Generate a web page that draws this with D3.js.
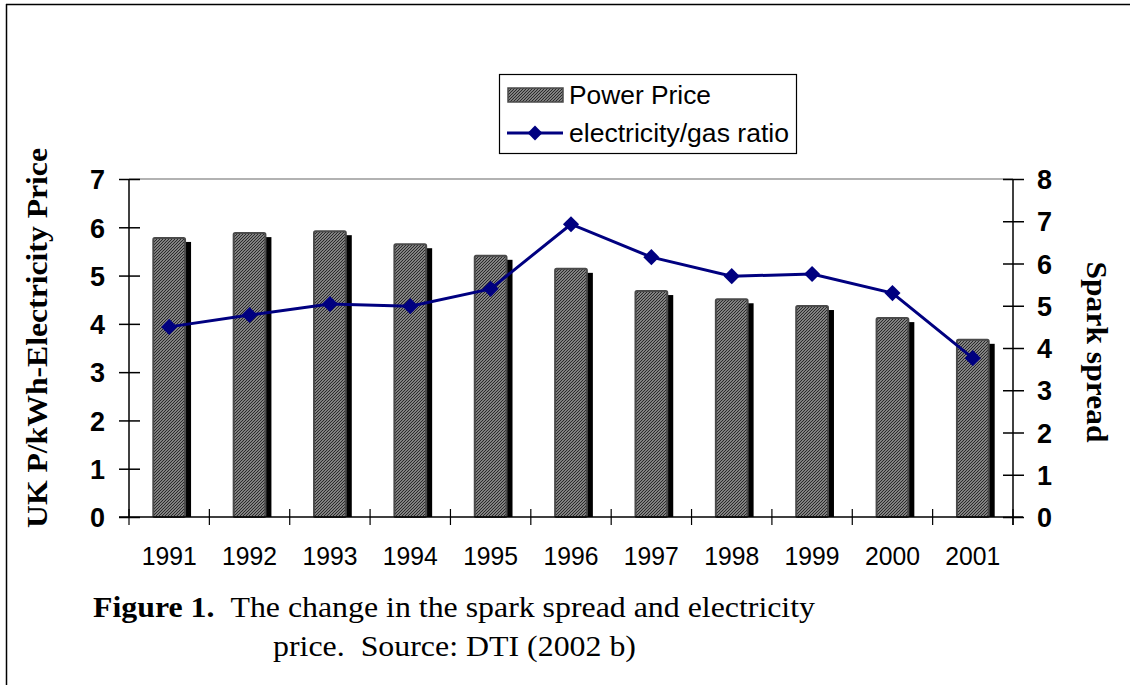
<!DOCTYPE html>
<html><head><meta charset="utf-8">
<script src="https://cdn.jsdelivr.net/npm/d3@7"></script>
<style>body{margin:0;background:#fff}svg{display:block}</style>
</head><body>
<svg id="c" width="1130" height="685"></svg>
<script>
const years = ["1991","1992","1993","1994","1995","1996","1997","1998","1999","2000","2001"];
const powerPrice = [5.80,5.90,5.94,5.67,5.43,5.16,4.70,4.53,4.39,4.14,3.69];
const ratio = [4.50,4.78,5.04,4.99,5.40,6.93,6.15,5.70,5.75,5.30,3.76];
const leftTicks = [0,1,2,3,4,5,6,7];
const rightTicks = [0,1,2,3,4,5,6,7,8];

const svg = d3.select("#c");
const L = 129, R = 1013, T = 179, B = 517;
const sans = "'Liberation Sans', Arial, sans-serif";
const serif = "'Liberation Serif', 'Times New Roman', serif";

const defs = svg.append("defs");
const pat = defs.append("pattern").attr("id","hatch").attr("patternUnits","userSpaceOnUse")
  .attr("width",3).attr("height",3);
pat.append("rect").attr("width",3).attr("height",3).attr("fill","#c8c8c8");
pat.append("path").attr("d","M-1,1 L1,-1 M0,3 L3,0 M2,4 L4,2").attr("stroke","#2a2a2a").attr("stroke-width",1.3);

// outer frame
svg.append("line").attr("x1",6.5).attr("x2",6.5).attr("y1",4).attr("y2",685).attr("stroke","#000").attr("stroke-width",1.5);
svg.append("line").attr("x1",6).attr("x2",1130).attr("y1",4.5).attr("y2",4.5).attr("stroke","#000").attr("stroke-width",1.5);

const x = d3.scaleBand().domain(years).range([L,R]).paddingInner(0.58).paddingOuter(0.29);
const step = x.step();
const yL = d3.scaleLinear().domain([0,7]).range([B,T]);
const yR = d3.scaleLinear().domain([0,8]).range([B,T]);

svg.append("line").attr("x1",L).attr("x2",R).attr("y1",T).attr("y2",T).attr("stroke","#999").attr("stroke-width",1.5);

const g = svg.append("g");
g.selectAll("rect.sh").data(years).join("rect").attr("class","sh")
  .attr("x",d=>x(d)+5).attr("width",x.bandwidth())
  .attr("y",(d,i)=>yL(powerPrice[i])+5).attr("height",(d,i)=>B-yL(powerPrice[i])-5)
  .attr("fill","#000");
g.selectAll("rect.bar").data(years).join("rect").attr("class","bar")
  .attr("x",d=>x(d)+1).attr("width",x.bandwidth()-2)
  .attr("y",(d,i)=>yL(powerPrice[i])+1).attr("height",(d,i)=>B-yL(powerPrice[i])-1)
  .attr("rx",1.5)
  .attr("fill","url(#hatch)").attr("stroke","#4a4a4a").attr("stroke-width",2);

const axL = svg.append("g").attr("transform",`translate(${L},0)`)
  .call(d3.axisLeft(yL).tickValues(leftTicks).tickFormat(d3.format("d")).tickSize(10).tickPadding(14));
axL.selectAll(".tick line").attr("x2",-10).attr("x1",11).attr("stroke-width",1.5);
axL.select(".domain").attr("stroke-width",1.5).attr("d",`M0,${T}V${B}`);
axL.selectAll("text").attr("font-family",sans).attr("font-weight","bold").attr("font-size",27).attr("fill","#000").attr("dy","0.36em");

const axR = svg.append("g").attr("transform",`translate(${R},0)`)
  .call(d3.axisRight(yR).tickValues(rightTicks).tickFormat(d3.format("d")).tickSize(11).tickPadding(13));
axR.selectAll(".tick line").attr("x1",-10).attr("stroke-width",1.5);
axR.select(".domain").attr("stroke-width",1.5).attr("d",`M0,${T}V${B+8}`);
axR.selectAll("text").attr("font-family",sans).attr("font-weight","bold").attr("font-size",27).attr("fill","#000").attr("dy","0.36em");

svg.append("line").attr("x1",L-10).attr("x2",R+10).attr("y1",B).attr("y2",B).attr("stroke","#000").attr("stroke-width",1.5);
const bticks = d3.range(years.length+1).map(k=>L+k*step);
svg.selectAll("line.bt").data(bticks).join("line").attr("class","bt")
  .attr("x1",d=>d).attr("x2",d=>d).attr("y1",B-8).attr("y2",B+8).attr("stroke","#000").attr("stroke-width",1.2);
svg.selectAll("text.xl").data(years).join("text").attr("class","xl")
  .attr("x",d=>x(d)+x.bandwidth()/2).attr("y",565).attr("text-anchor","middle")
  .attr("font-family",sans).attr("font-size",26).attr("fill","#000")
  .attr("textLength",55).attr("lengthAdjust","spacingAndGlyphs").text(d=>d);

const cx = d => x(d)+x.bandwidth()/2;
const line = d3.line().x((v,i)=>cx(years[i])).y(v=>yR(v));
svg.append("path").attr("d",line(ratio)).attr("fill","none").attr("stroke","#000080").attr("stroke-width",3);
svg.selectAll("path.pt").data(ratio).join("path").attr("class","pt")
  .attr("d",d3.symbol().type(d3.symbolSquare).size(130)).attr("transform",(v,i)=>`translate(${cx(years[i])},${yR(v)}) rotate(45)`)
  .attr("fill","#000080");

svg.append("text").attr("transform","translate(47,338) rotate(-90)").attr("text-anchor","middle")
  .attr("font-family",serif).attr("font-weight","bold").attr("font-size",30).attr("fill","#000")
  .attr("textLength",380).attr("lengthAdjust","spacingAndGlyphs")
  .text("UK P/kWh-Electricity Price");
svg.append("text").attr("transform","translate(1087,352) rotate(90)").attr("text-anchor","middle")
  .attr("font-family",serif).attr("font-weight","bold").attr("font-size",30).attr("fill","#000")
  .attr("textLength",181).attr("lengthAdjust","spacingAndGlyphs")
  .text("Spark spread");

const lg = svg.append("g");
lg.append("rect").attr("x",499.5).attr("y",74.5).attr("width",297).attr("height",79).attr("fill","#fff").attr("stroke","#000").attr("stroke-width",1.2);
lg.append("rect").attr("x",508).attr("y",88).attr("width",55).attr("height",14).attr("fill","url(#hatch)").attr("stroke","#4a4a4a").attr("stroke-width",1.5);
lg.append("text").attr("x",569).attr("y",104).attr("font-family",sans).attr("font-size",25).attr("fill","#000")
  .attr("textLength",142).attr("lengthAdjust","spacingAndGlyphs").text("Power Price");
lg.append("line").attr("x1",507).attr("x2",563).attr("y1",133).attr("y2",133).attr("stroke","#000080").attr("stroke-width",3);
lg.append("path").attr("transform","translate(535,133) rotate(45)").attr("d",d3.symbol().type(d3.symbolSquare).size(110)).attr("fill","#000080");
lg.append("text").attr("x",569).attr("y",142).attr("font-family",sans).attr("font-size",25).attr("fill","#000")
  .attr("textLength",220).attr("lengthAdjust","spacingAndGlyphs").text("electricity/gas ratio");

const cap = svg.append("text").attr("x",93).attr("y",617).attr("font-family",serif).attr("font-size",29).attr("fill","#000")
  .attr("textLength",722).attr("lengthAdjust","spacingAndGlyphs");
cap.append("tspan").attr("font-weight","bold").text("Figure 1.");
cap.append("tspan").text("\u00a0\u00a0The change in the spark spread and electricity");
svg.append("text").attr("x",273).attr("y",656).attr("font-family",serif).attr("font-size",29).attr("fill","#000")
  .attr("textLength",363).attr("lengthAdjust","spacingAndGlyphs")
  .text("price.\u00a0\u00a0Source: DTI (2002 b)");
</script>
</body></html>
